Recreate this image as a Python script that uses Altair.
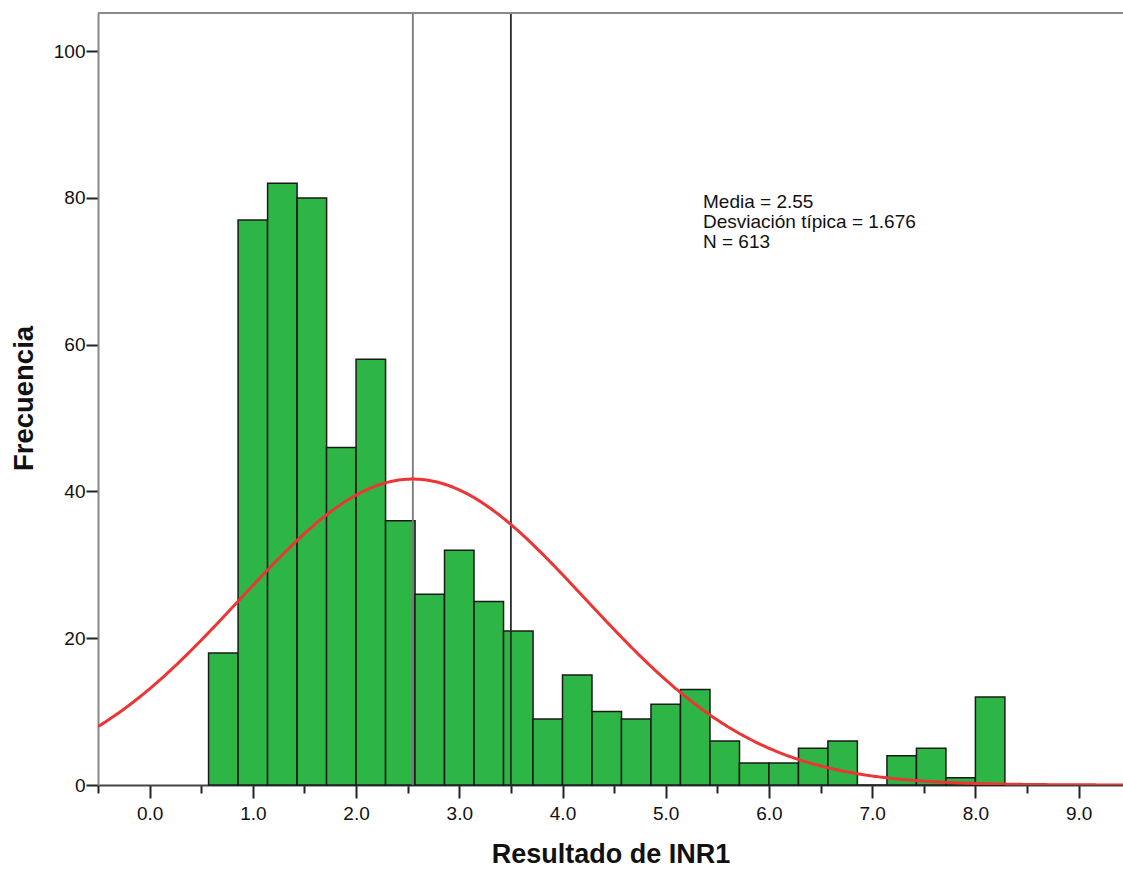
import altair as alt
import pandas as pd
import numpy as np

# ---- data ----
bin_left = [0.571, 0.857, 1.143, 1.429, 1.714, 2.000, 2.286, 2.571, 2.857, 3.143,
            3.429, 3.714, 4.000, 4.286, 4.571, 4.857, 5.143, 5.429, 5.714, 6.000,
            6.286, 6.571, 6.857, 7.143, 7.429, 7.714, 8.000]
bin_width = 2 / 7
counts = [18, 77, 82, 80, 46, 58, 36, 26, 32, 25, 21, 9, 15, 10, 9, 11, 13, 6, 3, 3,
          5, 6, 0, 4, 5, 1, 12]
ref_lines = [2.55, 3.5]
mean_val = 2.55
sd_val = 1.676
n_val = 613
x_ticks = [-0.5, 0.0, 0.5, 1.0, 1.5, 2.0, 2.5, 3.0, 3.5, 4.0, 4.5, 5.0, 5.5, 6.0,
           6.5, 7.0, 7.5, 8.0, 8.5, 9.0]
y_ticks = [0, 20, 40, 60, 80, 100]
x_domain = [-0.5, 9.43]
y_domain = [0, 105.2]

W, H = 1025, 772
FONT = "Liberation Sans"

bars = pd.DataFrame({
    "left": bin_left,
    "right": [b + bin_width for b in bin_left],
    "count": counts,
})

# fitted normal curve from the stated mean / sd / N
cx = np.linspace(x_domain[0], x_domain[1], 400)
cy = n_val * bin_width / (sd_val * np.sqrt(2 * np.pi)) * np.exp(-0.5 * ((cx - mean_val) / sd_val) ** 2)
curve = pd.DataFrame({"x": cx, "y": cy})

xscale = alt.Scale(domain=x_domain, nice=False, zero=False)
yscale = alt.Scale(domain=y_domain, nice=False)

x_axis = alt.Axis(
    values=x_ticks,
    labelExpr="datum.value % 1 == 0 ? format(datum.value, '.1f') : ''",
    tickSize={"condition": {"test": "datum.value % 1 == 0", "value": 13}, "value": 8},
    tickColor="#222", tickWidth=2,
    domainColor="#444", domainWidth=2,
    labelFont=FONT, labelFontSize=19, labelColor="#111",
    labelBaseline="alphabetic", labelPadding=21,
    title="Resultado de INR1", titleFont=FONT, titleFontSize=27, titleFontWeight="bold",
    titleColor="#111", titleBaseline="alphabetic", titleY=77,
    grid=False,
)
y_axis = alt.Axis(
    values=y_ticks,
    tickSize=12, tickColor="#222", tickWidth=2,
    domainColor="#888", domainWidth=2,
    labelFont=FONT, labelFontSize=19, labelColor="#111", labelPadding=1,
    title="Frecuencia", titleFont=FONT, titleFontSize=27.5, titleFontWeight="bold",
    titleColor="#111", titleBaseline="alphabetic", titleAngle=270,
    titleX=-66, titleY=385, titleAlign="center",
    grid=False,
)

hist = alt.Chart(bars).mark_rect(
    color="#2db646", stroke="#1a1a1a", strokeWidth=1.5
).encode(
    x=alt.X("left:Q", scale=xscale, axis=x_axis),
    x2="right:Q",
    y=alt.Y("count:Q", scale=yscale, axis=y_axis),
)

rules_df = pd.DataFrame({"x": ref_lines, "c": ["#777777", "#2a2a2a"]})
rules = alt.Chart(rules_df).mark_rule(strokeWidth=1.8).encode(
    x=alt.X("x:Q", scale=xscale),
    color=alt.Color("c:N", scale=None),
)

line = alt.Chart(curve).mark_line(color="#ec3535", strokeWidth=3, clip=True).encode(
    x=alt.X("x:Q", scale=xscale),
    y=alt.Y("y:Q", scale=yscale),
)

top_border = alt.Chart(pd.DataFrame({"a": [0]})).mark_rule(
    color="#8a8a8a", strokeWidth=2
).encode(x=alt.value(0), x2=alt.value(W), y=alt.value(0))

stats_text = f"Media = {mean_val:.2f}\nDesviación típica = {sd_val:.3f}\nN = {n_val}"
annot = alt.Chart(pd.DataFrame({"t": [stats_text]})).mark_text(
    align="left", baseline="alphabetic", lineBreak="\n", lineHeight=20,
    font=FONT, fontSize=19, color="#111",
).encode(x=alt.value(605), y=alt.value(195), text="t:N")

chart = alt.layer(hist, rules, line, top_border, annot).properties(
    width=W, height=H,
    autosize=alt.AutoSizeParams(type="none"),
    padding={"left": 98, "top": 13, "right": 0, "bottom": 84},
).configure_view(stroke=None).configure(background="white")

chart.save("out.html", embed_options={"renderer": "svg", "actions": False})
